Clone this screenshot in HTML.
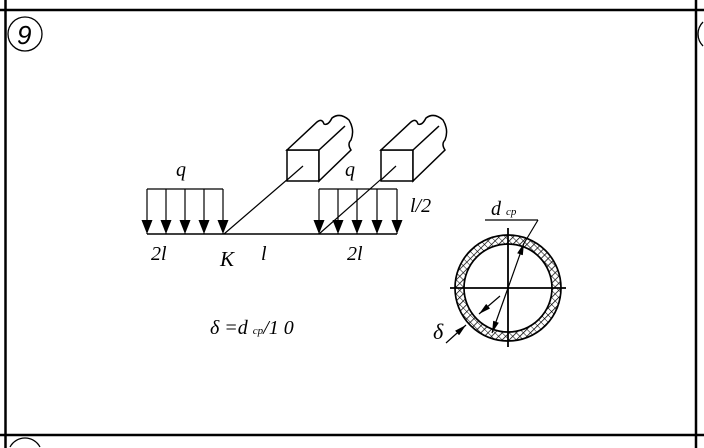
<!DOCTYPE html>
<html><head><style>
html,body{margin:0;padding:0;background:#fff;width:704px;height:448px;overflow:hidden;}
svg{display:block;}
text{font-family:"Liberation Serif",serif;font-style:italic;fill:#000;}
</style></head><body>
<svg width="704" height="448" viewBox="0 0 704 448">
<defs>
<marker id="ah" markerWidth="12" markerHeight="16" refX="14" refY="5.5" orient="auto" markerUnits="userSpaceOnUse"><path d="M0,0 L14,5.5 L0,11 z" fill="#000"/></marker>
<marker id="as" markerWidth="12" markerHeight="6" refX="12" refY="3" orient="auto" markerUnits="userSpaceOnUse"><path d="M0,0 L12,3 L0,6 z" fill="#000"/></marker>
<pattern id="hat" width="5" height="5" patternUnits="userSpaceOnUse" patternTransform="rotate(45)"><line x1="0" y1="0" x2="0" y2="5" stroke="#000" stroke-width="1.5"/><line x1="0" y1="0" x2="5" y2="0" stroke="#000" stroke-width="1"/></pattern>
</defs>
<g stroke="#000" fill="none">
<line x1="0" y1="10" x2="704" y2="10" stroke-width="2.5"/>
<line x1="0" y1="435" x2="704" y2="435" stroke-width="2.5"/>
<line x1="5.5" y1="0" x2="5.5" y2="448" stroke-width="2.5"/>
<line x1="696" y1="0" x2="696" y2="448" stroke-width="2.5"/>
<circle cx="25" cy="34" r="17" stroke-width="1.3"/>
<path d="M703,22 A17,17 0 0 0 703,46" stroke-width="1.3"/>
<path d="M10,447 A17,17 0 0 1 40,447" stroke-width="1.3"/>
<line x1="147" y1="234" x2="397" y2="234" stroke-width="1.6"/>
<line x1="147" y1="189" x2="223" y2="189" stroke-width="1.3"/>
<line x1="319" y1="189" x2="397" y2="189" stroke-width="1.3"/>
<g stroke-width="1.2" marker-end="url(#ah)">
<line x1="147" y1="189" x2="147" y2="234"/><line x1="166" y1="189" x2="166" y2="234"/><line x1="185" y1="189" x2="185" y2="234"/><line x1="204" y1="189" x2="204" y2="234"/><line x1="223" y1="189" x2="223" y2="234"/>
<line x1="319" y1="189" x2="319" y2="234"/><line x1="338" y1="189" x2="338" y2="234"/><line x1="357" y1="189" x2="357" y2="234"/><line x1="377" y1="189" x2="377" y2="234"/><line x1="397" y1="189" x2="397" y2="234"/>
</g>
<line x1="224" y1="234" x2="303" y2="166" stroke-width="1.2"/>
<line x1="319" y1="234" x2="396" y2="166" stroke-width="1.2"/>
<g stroke-width="1.5" fill="#fff">
<path d="M287,150 L319,150 L319,181 L287,181 Z"/>
<path d="M287,150 L317,122 Q322,118 324,124 Q328,126 332,118 Q340,112 349,120 Q355,130 351,140 Q347,144 351,150 L319,181 L319,150 Z"/>
<line x1="319" y1="150" x2="345" y2="126"/>
<path d="M381,150 L413,150 L413,181 L381,181 Z"/>
<path d="M381,150 L411,122 Q416,118 418,124 Q422,126 426,118 Q434,112 443,120 Q449,130 445,140 Q441,144 445,150 L413,181 L413,150 Z"/>
<line x1="413" y1="150" x2="439" y2="126"/>
</g>
<line x1="303" y1="166" x2="287" y2="180" stroke-width="1.2"/>
<line x1="396" y1="166" x2="381" y2="180" stroke-width="1.2"/>
<circle cx="508" cy="288" r="48.5" stroke="url(#hat)" stroke-width="9"/>
<circle cx="508" cy="288" r="53" stroke-width="1.7"/>
<circle cx="508" cy="288" r="44" stroke-width="1.7"/>
<line x1="450" y1="288" x2="566" y2="288" stroke-width="1.8"/>
<line x1="508" y1="228" x2="508" y2="347" stroke-width="1.8"/>
<line x1="485" y1="220" x2="538" y2="220" stroke-width="1.2"/>
<line x1="538" y1="220" x2="523" y2="245" stroke-width="1.2"/>
<line x1="508" y1="288" x2="524" y2="243" stroke-width="1.2" marker-end="url(#as)"/>
<line x1="508" y1="288" x2="492" y2="333" stroke-width="1.2" marker-end="url(#as)"/>
<line x1="446" y1="343" x2="466" y2="325" stroke-width="1.2" marker-end="url(#as)"/>
<line x1="500" y1="296" x2="479" y2="314" stroke-width="1.2" marker-end="url(#as)"/>
</g>
<text x="17" y="44" font-size="26" style="font-family:'Liberation Sans',sans-serif;">9</text>
<text x="176" y="176" font-size="20">q</text>
<text x="345" y="176" font-size="20">q</text>
<text x="410" y="212" font-size="20">l/2</text>
<text x="151" y="260" font-size="20">2l</text>
<text x="220" y="266" font-size="21">K</text>
<text x="261" y="260" font-size="20">l</text>
<text x="347" y="260" font-size="20">2l</text>
<text x="491" y="215" font-size="20">d <tspan font-size="11">ср</tspan></text>
<text x="433" y="339" font-size="22">δ</text>
<text x="210" y="334" font-size="20">δ =d <tspan font-size="11">ср</tspan>/1 0</text>
</svg>
</body></html>
